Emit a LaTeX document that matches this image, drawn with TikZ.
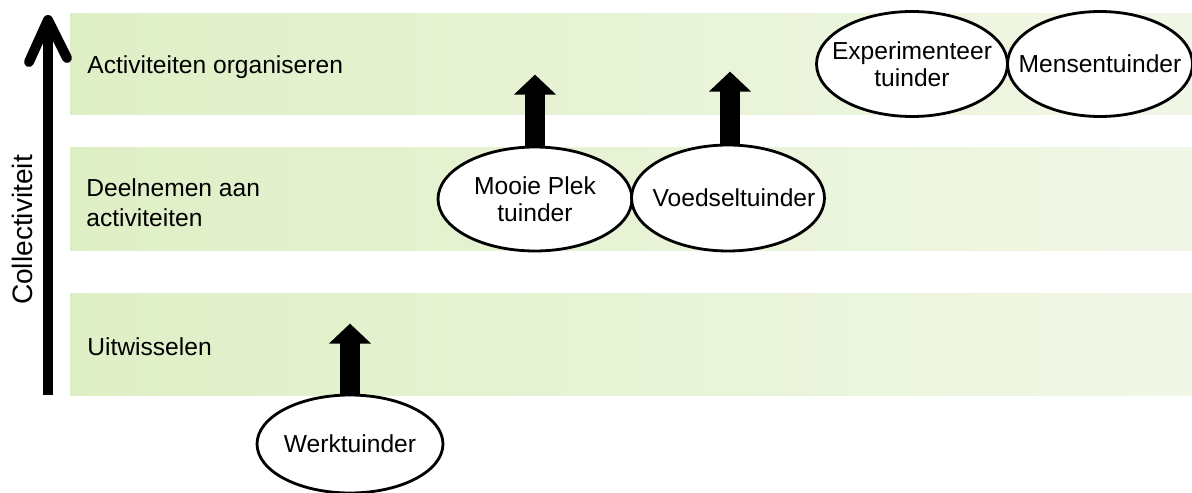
\documentclass[tikz,border=0pt]{standalone}
\usepackage{fontspec}
\setmainfont{Liberation Sans}
\usetikzlibrary{shapes.geometric,arrows.meta}
\definecolor{bandleft}{RGB}{223,239,197}
\definecolor{bandright}{RGB}{241,247,231}

\begin{document}
\begin{tikzpicture}[x=0.02cm, y=-0.02cm,
    band/.style={left color=bandleft, right color=bandright, draw=none},
    niveau/.style={anchor=west, inner sep=0pt, align=left,
        font=\fontsize{14}{17}\selectfont},
    tuinder/.style={ellipse, draw, line width=1.6pt, fill=white, inner sep=0pt},
    every label/.style={align=center, font=\fontsize{14}{15.5}\selectfont},
    groei/.style={line width=0.4cm, -{Triangle[length=0.4cm, width=0.82cm]}},
    as/.style={line width=0.2cm, line cap=round, line join=round}]
    \useasboundingbox (0,0) rectangle (1192,493);

    % Banden
    \path[band] (70,14) rectangle (1192,115);
    \path[band] (70,148) rectangle (1192,250);
    \path[band] (70,293) rectangle (1192,395);

    % Niveaus
    \node[niveau] (organiseren) at (87,67) {Activiteiten organiseren};
    \node[niveau] (deelnemen) at (86,203) {Deelnemen aan\\activiteiten};
    \node[niveau] (uitwisselen) at (87,347) {Uitwisselen};

    % As collectiviteit
    \coordinate (voet) at (48,395);
    \coordinate (top) at (48,24);
    \draw[line width=0.2cm] (voet) -- (top);
    \draw[as] (top) ++(-19,38) -- (48,20) -- ++(19,38);
    \node[rotate=90, font=\fontsize{16}{19}\selectfont] (collectiviteit)
        at (22,230) {Collectiviteit};

    % Tuinders
    \node[tuinder, minimum width=3.72cm, minimum height=1.96cm,
        label=center:Werktuinder] (werk) at (350,444) {};
    \node[tuinder, minimum width=3.88cm, minimum height=2.08cm,
        label=center:{Mooie Plek\\tuinder}] (mooieplek) at (535,199) {};
    \node[tuinder, minimum width=3.86cm, minimum height=2.12cm,
        label={[xshift=0.12cm]center:Voedseltuinder}] (voedsel) at (728,198) {};
    \node[tuinder, minimum width=3.82cm, minimum height=2.1cm,
        label=center:{Experimenteer\\tuinder}] (experiment) at (912,64) {};
    \node[tuinder, minimum width=3.7cm, minimum height=2.1cm,
        label=center:Mensentuinder] (mensen) at (1100,64) {};

    % Groei
    \draw[groei] (werk.north) -- ++(0,-70);
    \draw[groei] (mooieplek.north) -- ++(0,-71);
    \draw[groei] ([xshift=0.04cm]voedsel.north) -- ++(0,-72);
\end{tikzpicture}
\end{document}
